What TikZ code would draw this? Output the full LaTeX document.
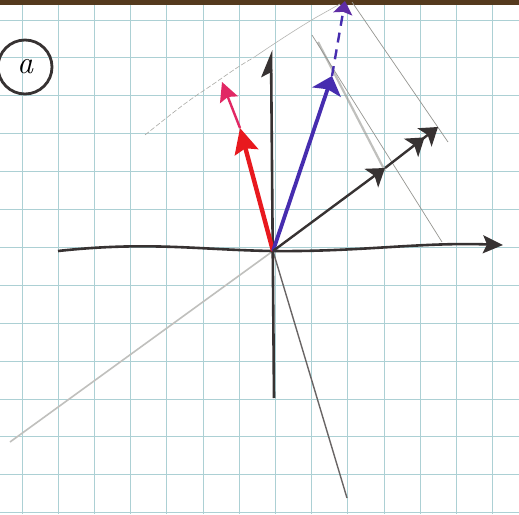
\documentclass[tikz,border=0pt]{standalone}
\usetikzlibrary{arrows.meta}
\definecolor{gridc}{RGB}{172,208,212}
\definecolor{tablec}{RGB}{85,58,30}
\definecolor{inkc}{RGB}{55,50,50}
\definecolor{redc}{RGB}{232,25,30}
\definecolor{pinkc}{RGB}{225,40,100}
\definecolor{bluec}{RGB}{70,45,175}
\definecolor{purplec}{RGB}{95,45,165}
\definecolor{pencil}{RGB}{150,150,145}
\tikzset{
  gridline/.style={draw=gridc, line width=0.9pt},
  axisline/.style={draw=inkc, line width=2.6pt},
  redarr/.style={draw=redc, line width=4.4pt, -{Stealth[length=25pt,width=24pt,inset=4pt]}},
  pinkarr/.style={draw=pinkc, line width=2.4pt, -{Stealth[length=19pt,width=19pt,inset=3pt]}},
  bluearr/.style={draw=bluec, line width=3.8pt, -{Stealth[length=17pt,width=30pt,inset=3pt]}},
  bluedash/.style={draw=bluec, line width=2.4pt, dash pattern=on 10pt off 7pt, -{Stealth[length=13pt,width=19pt,inset=2pt,color=purplec]}},
  blackarr/.style={draw=inkc, line width=2.4pt},
  blackhead/.style={-{Stealth[length=17pt,width=23pt,inset=4pt]}},
  blackheads/.style={-{Stealth[length=17pt,width=23pt,inset=4pt] Stealth[length=17pt,width=23pt,inset=4pt]}},
  thinpencil/.style={draw=pencil, line width=0.7pt},
}
\begin{document}
\begin{tikzpicture}[x=1pt,y=-1pt]
\useasboundingbox (0,0) rectangle (519,514);
\fill[white] (0,0) rectangle (519,514);
\foreach \i in {0,...,13} \draw[gridline] ({22+36.2*\i},0) -- ({22+36.2*\i},514);
\foreach \j in {0,...,13} \draw[gridline] (0,{20+37.9*\j}) -- (519,{20+37.9*\j});
\fill[tablec] (0,0) rectangle (519,5);

% named points
\coordinate (O) at (273,251);
\coordinate (xL) at (58,251);
\coordinate (xR) at (503,245);
\coordinate (yB) at (274,398);
\coordinate (yT) at (271,50);
\coordinate (R) at (240,128);
\coordinate (P) at (222,82);
\coordinate (B) at (332,76);
\coordinate (BT) at (345,1);
\coordinate (M) at (385,168);
\coordinate (E) at (438,127);
\coordinate (DL) at (10,442);
\coordinate (DR) at (347,498);
\coordinate (g1a) at (318,42);
\coordinate (g1b) at (385,171);
\coordinate (g2a) at (312,35);
\coordinate (g2b) at (442,242);
\coordinate (g3a) at (352,2);
\coordinate (g3b) at (448,142);
\coordinate (c1) at (145,135);
\coordinate (c2) at (200,93);
\coordinate (c3) at (253,58);
\coordinate (c4) at (315,18);
\coordinate (c5) at (340,4);

% faint construction curve
\draw[draw=pencil!80, line width=0.6pt, dash pattern=on 5pt off 2pt] (c1) .. controls (170,115) and (185,103) .. (c2) .. controls (220,80) and (235,68) .. (c3);
\draw[draw=pencil!70, line width=0.6pt] (c3) .. controls (275,43) and (295,30) .. (c4) -- (c5);

% lower lines
\draw[draw=pencil!60, line width=1.6pt] (O) -- (DL);
\draw[draw=inkc!75, line width=1.4pt] (O) -- (DR);

% projection lines
\draw[draw=pencil, line width=2.2pt, opacity=0.6] (g1a) -- (g1b);
\draw[thinpencil] (g2a) -- (g2b);
\draw[thinpencil] (g3a) -- (g3b);

% axes
\draw[axisline, -{Stealth[length=20pt,width=18pt,inset=4pt]}] (xL) .. controls (150,241) and (200,250) .. (O) .. controls (360,252) and (420,242) .. (xR);
\draw[axisline, -{Stealth[length=24pt,width=20pt,inset=5pt,left]}] (yB) -- (yT);

% vectors
\draw[redarr] (O) -- (R);
\draw[pinkarr] (R) -- (P);
\draw[bluearr] (O) -- (B);
\draw[bluedash] (B) -- (BT);
\draw[blackarr, blackhead] (O) -- (M);
\draw[blackarr, blackheads] (M) -- (E);

% label
\node[draw=inkc, circle, line width=2.8pt, minimum size=54pt, inner sep=0pt] (lab) at (25,67) {\fontsize{32}{32}\selectfont\itshape a};
\end{tikzpicture}
\end{document}
